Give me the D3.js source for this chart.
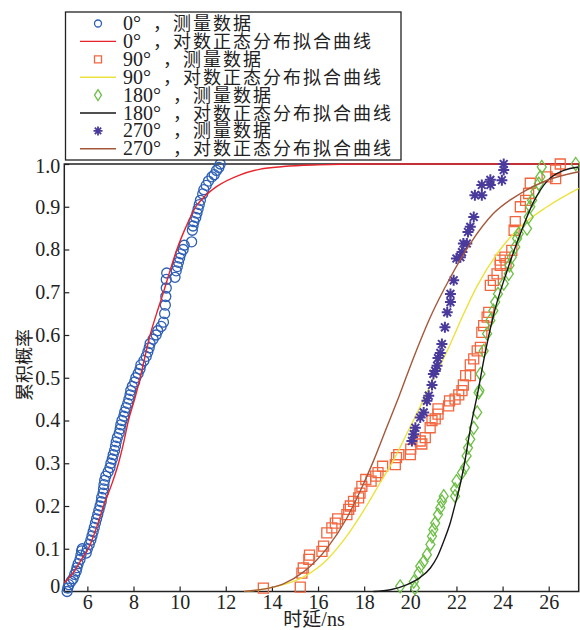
<!DOCTYPE html>
<html><head><meta charset="utf-8">
<script src="https://cdn.jsdelivr.net/npm/d3@7"></script>
<style>body{margin:0;background:#fff}svg{display:block}</style>
</head><body><svg id="c" width="580" height="630"></svg>
<script>
// ---------------- data ----------------
const xDomain = [5, 27.3];
const yDomain = [0, 1];
const xTicks = [6, 8, 10, 12, 14, 16, 18, 20, 22, 24, 26];
const yTicks = [0, 0.1, 0.2, 0.3, 0.4, 0.5, 0.6, 0.7, 0.8, 0.9, 1.0];
const yTickLabels = ["0", "0.1", "0.2", "0.3", "0.4", "0.5", "0.6", "0.7", "0.8", "0.9", "1.0"];
const xLabelCJK = "时延", xLabelUnit = "/ns";
const yLabel = "累积概率";

const angles = ["0", "90", "180", "270"];
const dataText = "，测量数据";
const fitText = "，对数正态分布拟合曲线";

// 0° measured (x ns, cumulative p)
const data0 = [[5.12,0.0],[5.15,0.008],[5.2,0.016],[5.3,0.024],[5.38,0.03],[5.45,0.04],[5.52,0.048],[5.55,0.056],[5.6,0.065],[5.68,0.075],[5.72,0.085],[5.75,0.095],[5.78,0.1],[5.95,0.09],[6.0,0.1],[6.08,0.11],[6.15,0.12],[6.2,0.13],[6.25,0.14],[6.3,0.15],[6.35,0.16],[6.4,0.17],[6.45,0.18],[6.5,0.19],[6.55,0.2],[6.6,0.21],[6.62,0.22],[6.68,0.23],[6.7,0.24],[6.72,0.25],[6.75,0.26],[6.8,0.27],[6.9,0.28],[6.98,0.29],[7.02,0.3],[7.08,0.31],[7.12,0.32],[7.18,0.33],[7.22,0.34],[7.25,0.35],[7.3,0.36],[7.38,0.37],[7.42,0.38],[7.45,0.39],[7.5,0.4],[7.58,0.41],[7.62,0.42],[7.68,0.43],[7.75,0.44],[7.8,0.45],[7.85,0.46],[7.88,0.47],[7.95,0.48],[8.05,0.49],[8.1,0.5],[8.2,0.51],[8.28,0.52],[8.32,0.53],[8.45,0.54],[8.55,0.55],[8.62,0.56],[8.68,0.57],[8.72,0.58],[8.85,0.59],[8.98,0.6],[9.05,0.61],[9.2,0.62],[9.3,0.63],[9.35,0.65],[9.38,0.67],[9.4,0.69],[9.42,0.71],[9.42,0.73],[9.44,0.745],[9.8,0.735],[9.85,0.75],[9.9,0.76],[9.95,0.77],[10.0,0.78],[10.05,0.79],[10.15,0.8],[10.2,0.81],[10.52,0.818],[10.55,0.845],[10.58,0.855],[10.62,0.865],[10.7,0.875],[10.75,0.885],[10.8,0.895],[10.85,0.905],[10.9,0.915],[11.0,0.93],[11.05,0.94],[11.15,0.95],[11.25,0.96],[11.4,0.97],[11.5,0.975],[11.6,0.985],[11.7,0.992],[11.76,1.0]];
const fit0 = [[5.0,0.02],[5.4,0.045],[5.8,0.08],[6.04,0.1],[6.4,0.15],[6.7,0.2],[7.05,0.25],[7.35,0.3],[7.58,0.35],[7.78,0.4],[8.05,0.45],[8.29,0.5],[8.5,0.55],[8.72,0.6],[9.0,0.65],[9.3,0.7],[9.58,0.75],[9.88,0.8],[10.25,0.85],[10.7,0.9],[11.1,0.925],[11.6,0.947],[12.6,0.974],[13.5,0.988],[14.5,0.994],[16,0.998],[18,1.0],[27.3,1.0]];

const data90 = [[13.63,0.008],[15.23,0.01],[15.3,0.043],[15.36,0.055],[15.6,0.075],[15.63,0.085],[16.17,0.094],[16.24,0.106],[16.38,0.137],[16.6,0.149],[16.75,0.16],[16.85,0.17],[17.25,0.18],[17.33,0.192],[17.4,0.2],[17.54,0.211],[17.76,0.219],[17.82,0.23],[17.9,0.246],[18.07,0.262],[18.3,0.258],[18.5,0.27],[18.6,0.278],[18.8,0.293],[19.35,0.297],[19.4,0.313],[19.5,0.32],[20.0,0.32],[20.02,0.333],[20.43,0.352],[20.5,0.345],[20.65,0.36],[20.86,0.383],[20.94,0.4],[21.08,0.404],[21.2,0.415],[21.2,0.427],[21.66,0.434],[21.7,0.446],[21.94,0.45],[22.1,0.46],[22.24,0.47],[22.3,0.483],[22.4,0.505],[22.6,0.505],[22.6,0.53],[22.75,0.544],[22.9,0.563],[23.04,0.571],[23.1,0.606],[23.18,0.622],[23.33,0.642],[23.4,0.653],[23.47,0.716],[23.6,0.728],[23.76,0.743],[23.9,0.763],[24.15,0.767],[23.9,0.775],[24.1,0.782],[24.4,0.798],[24.5,0.845],[24.55,0.865],[24.77,0.9],[25.0,0.915],[25.13,0.931],[25.2,0.955],[25.93,0.97],[26.3,0.966],[26.3,0.986],[26.5,1.0]];
const fit90 = [[12.8,0],[13.7,0.006],[14.5,0.016],[15.4,0.035],[16.4,0.075],[17.25,0.13],[18.1,0.2],[18.7,0.255],[19.28,0.308],[19.9,0.375],[20.55,0.446],[21.1,0.508],[21.6,0.563],[22.3,0.648],[22.9,0.715],[23.76,0.79],[24.77,0.853],[25.93,0.9],[27.3,0.943]];

const data180 = [[19.56,0.012],[20.15,0.023],[20.2,0.008],[20.36,0.043],[20.43,0.059],[20.58,0.07],[20.72,0.086],[20.87,0.11],[20.94,0.129],[21.0,0.145],[21.08,0.16],[21.2,0.18],[21.3,0.196],[21.37,0.211],[21.45,0.223],[21.94,0.223],[21.94,0.239],[22.0,0.258],[22.24,0.278],[22.37,0.29],[22.44,0.317],[22.5,0.336],[22.6,0.356],[22.75,0.383],[22.9,0.419],[22.96,0.465],[23.0,0.47],[23.04,0.509],[23.18,0.563],[23.33,0.603],[23.47,0.634],[23.6,0.657],[23.68,0.677],[23.8,0.696],[24.05,0.72],[24.27,0.743],[24.3,0.763],[24.4,0.782],[24.55,0.806],[24.63,0.826],[24.7,0.837],[25.06,0.849],[25.13,0.876],[25.2,0.9],[25.28,0.915],[25.42,0.935],[25.57,0.954],[25.64,0.97],[25.7,0.993],[27.17,1.0]];
const fit180 = [[18.4,0],[19.14,0.004],[19.86,0.016],[20.43,0.033],[20.87,0.055],[21.16,0.08],[21.45,0.118],[21.74,0.162],[21.95,0.205],[22.17,0.252],[22.35,0.3],[22.6,0.38],[22.96,0.475],[23.18,0.54],[23.6,0.645],[24.2,0.751],[24.77,0.837],[25.35,0.912],[25.93,0.96],[26.65,0.985],[27.3,0.993]];

const data270 = [[20.07,0.352],[20.15,0.368],[20.22,0.383],[20.43,0.407],[20.58,0.419],[20.72,0.446],[20.8,0.458],[20.94,0.483],[21.0,0.509],[21.08,0.516],[21.16,0.528],[21.2,0.546],[21.3,0.558],[21.37,0.579],[21.5,0.618],[21.6,0.653],[21.74,0.677],[21.74,0.696],[21.88,0.728],[22.0,0.779],[22.17,0.782],[22.24,0.794],[22.3,0.814],[22.45,0.814],[22.5,0.841],[22.6,0.853],[22.75,0.876],[22.8,0.927],[23.1,0.927],[23.1,0.951],[23.47,0.951],[23.47,0.963],[23.97,0.962],[24.05,0.986],[24.05,1.0]];
const fit270 = [[12.8,0],[13.7,0.006],[14.5,0.018],[15.4,0.047],[16.4,0.102],[17.25,0.172],[17.83,0.235],[18.4,0.305],[18.97,0.383],[19.5,0.455],[20.15,0.548],[20.87,0.642],[21.74,0.735],[22.6,0.814],[23.6,0.884],[24.77,0.931],[25.93,0.962],[27.3,0.982]];

// ---------------- chart ----------------
const svg = d3.select("#c");
const x = d3.scaleLinear().domain(xDomain).range([64.3, 578.7]);
const y = d3.scaleLinear().domain(yDomain).range([591.5, 164]);

const serif = "'Liberation Serif','Times New Roman',serif";
const cjk = "'Noto Sans CJK SC','Noto Sans CJK JP',sans-serif";

const colors = {blue:"#2d5fb5", red:"#e8232b", orange:"#f2663f", yellow:"#ebe23c", green:"#6cbf44", black:"#161616", purple:"#4a3a9c", brown:"#a5573a"};

function circlePath(r){ return `M${r},0A${r},${r} 0 1,1 ${-r},0A${r},${r} 0 1,1 ${r},0Z`; }
function squarePath(s){ const h=s/2; return `M${-h},${-h}H${h}V${h}H${-h}Z`; }
function diamondPath(w,h){ return `M0,${-h/2}L${w/2},0L0,${h/2}L${-w/2},0Z`; }
function starPath(r){ const d=r*0.7071; return `M${-r},0H${r}M0,${-r}V${r}M${-d},${-d}L${d},${d}M${-d},${d}L${d},${-d}`; }

const line = d3.line().x(d=>x(d[0])).y(d=>y(d[1])).curve(d3.curveMonotoneX);

// axes
const gx = svg.append("g").attr("transform",`translate(0,${y(0)})`)
  .call(d3.axisBottom(x).tickValues(xTicks).tickFormat(d3.format("d")).tickSizeInner(-5).tickSizeOuter(0).tickPadding(3));
const gy = svg.append("g").attr("transform",`translate(${x(xDomain[0])},0)`)
  .call(d3.axisLeft(y).tickValues(yTicks).tickFormat((d,i)=>yTickLabels[i]).tickSizeInner(-5).tickSizeOuter(0).tickPadding(4));
[gx,gy].forEach(g=>{
  g.select(".domain").remove();
  g.selectAll("line").attr("stroke","#222").attr("stroke-width",1.2);
  g.selectAll("text").attr("font-family",serif).attr("font-size",20).attr("fill","#222");
});
gy.selectAll(".tick text").attr("dy",(d)=> d===0 ? "0.05em" : (d===1 ? "0.42em" : "0.32em"));

// frame
svg.append("rect").attr("x",x(xDomain[0])).attr("y",y(1)).attr("width",x(xDomain[1])-x(xDomain[0])).attr("height",y(0)-y(1))
  .attr("fill","none").attr("stroke","#222").attr("stroke-width",1.5);

const plot = svg.append("g");
function drawPoints(data, pathStr, color, sw){
  plot.append("g").selectAll("path").data(data).join("path")
    .attr("transform",d=>`translate(${x(d[0])},${y(d[1])})`)
    .attr("d",pathStr).attr("fill","none").attr("stroke",color).attr("stroke-width",sw);
}
function drawFit(data,color){
  plot.append("path").datum(data).attr("d",line).attr("fill","none").attr("stroke",color).attr("stroke-width",1.4);
}
drawPoints(data0, circlePath(5), colors.blue, 1.3);
drawFit(fit0, colors.red);
drawPoints(data90, squarePath(10), colors.orange, 1.3);
drawFit(fit90, colors.yellow);
drawPoints(data180, diamondPath(9,13), colors.green, 1.3);
drawFit(fit180, colors.black);
drawPoints(data270, starPath(5.5), colors.purple, 2);
drawFit(fit270, colors.brown);

// axis titles
const xt = svg.append("text").attr("x",314).attr("y",626).attr("text-anchor","middle").attr("font-size",19).attr("fill","#222");
xt.append("tspan").attr("font-family",cjk).text(xLabelCJK);
xt.append("tspan").attr("font-family",serif).attr("font-size",20).text(xLabelUnit);
svg.append("text").attr("transform","translate(23,365) rotate(-90)").attr("text-anchor","middle")
  .attr("dominant-baseline","central").attr("font-family",cjk).attr("font-size",18).attr("fill","#222").text(yLabel);

// legend
const lg = svg.append("g");
lg.append("rect").attr("x",65.5).attr("y",12).attr("width",335.5).attr("height",148)
  .attr("fill","#fff").attr("stroke","#222").attr("stroke-width",1.3);
const items = [
  {a:0,type:"circle",c:colors.blue},{a:0,type:"line",c:colors.red},
  {a:1,type:"square",c:colors.orange},{a:1,type:"line",c:colors.yellow},
  {a:2,type:"diamond",c:colors.green},{a:2,type:"line",c:colors.black},
  {a:3,type:"star",c:colors.purple},{a:3,type:"line",c:colors.brown}
];
items.forEach((it,i)=>{
  const cy = 23.5 + i*17.9;
  if(it.type==="line"){
    lg.append("line").attr("x1",80).attr("x2",116).attr("y1",cy).attr("y2",cy).attr("stroke",it.c).attr("stroke-width",1.4);
  } else {
    const p = it.type==="circle"?circlePath(3.5):it.type==="square"?squarePath(7):it.type==="diamond"?diamondPath(7,11):starPath(4.5);
    lg.append("path").attr("transform",`translate(98,${cy})`).attr("d",p).attr("fill","none").attr("stroke",it.c).attr("stroke-width",it.type==="star"?1.8:1.3);
  }
  const ang = angles[it.a];
  const t = lg.append("text").attr("y",cy+6.5).attr("font-size",19).attr("fill","#222");
  t.append("tspan").attr("x",123).attr("font-family",serif).attr("font-size",20).text(ang+"°");
  t.append("tspan").attr("x",123+10*ang.length+20).attr("font-family",cjk).attr("font-size",18).attr("letter-spacing",2)
    .text(it.type==="line"?fitText:dataText);
});
</script></body></html>
